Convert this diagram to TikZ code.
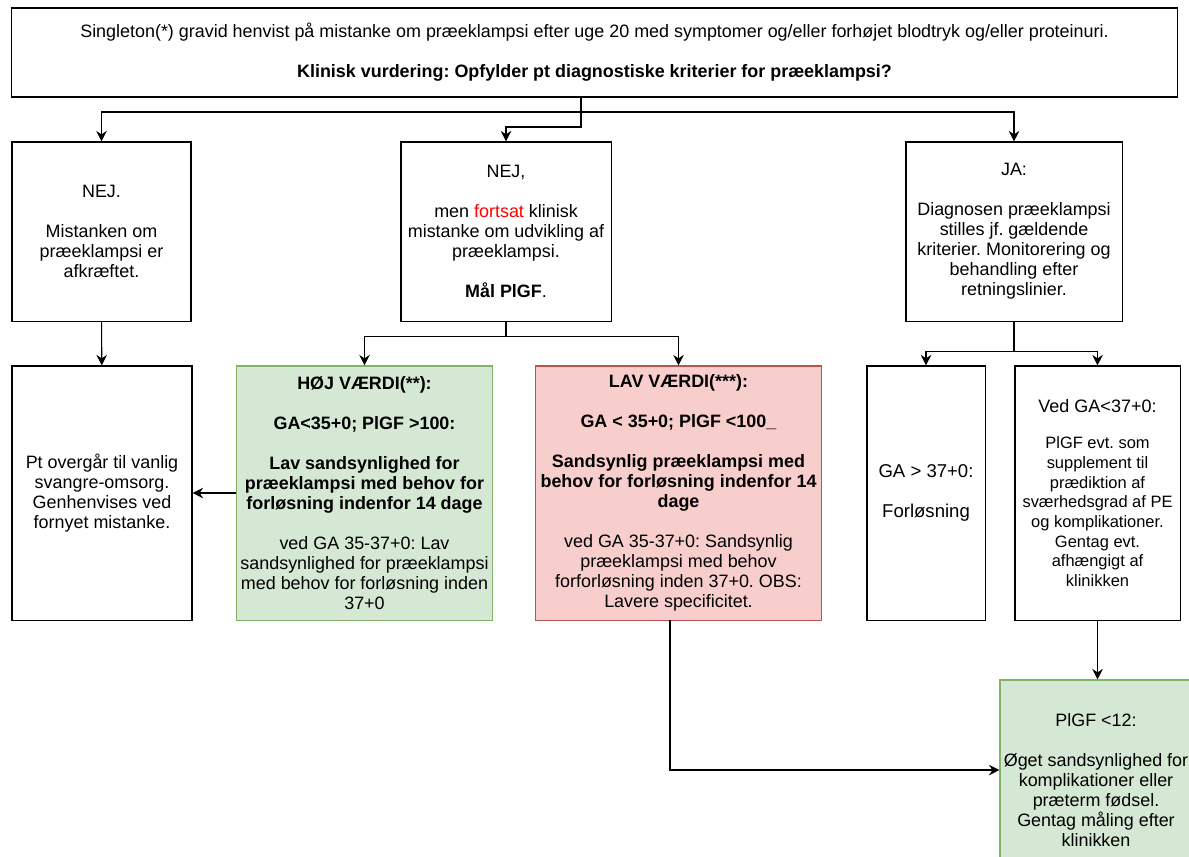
\documentclass[tikz,border=0pt]{standalone}
\usepackage{fontspec}
\setmainfont{Liberation Sans}
\usepackage{xcolor}
\definecolor{hojbg}{HTML}{D5E8D4}
\definecolor{hojbd}{HTML}{82B366}
\definecolor{lavbg}{HTML}{F8CECC}
\definecolor{lavbd}{HTML}{B85450}
\usepackage{tikz}
\usetikzlibrary{positioning, arrows.meta}
\frenchspacing

\begin{document}
\begin{tikzpicture}[
  x=0.025cm, y=-0.025cm,
  box/.style={draw, line width=0.75pt, align=center, inner sep=0pt, font=\fontsize{12.75}{14.2}\selectfont},
  good/.style={fill=hojbg, draw=hojbd},
  bad/.style={fill=lavbg, draw=lavbd},
  arrow/.style={-{Stealth[length=7.5pt, width=7.5pt, inset=2.5pt]}, line width=0.75pt},
]
\useasboundingbox (0,0) rectangle (1189,856);

% Question
\node[box, minimum width=29.125cm, minimum height=2.225cm] (top) at (594.5,52.5)
  {Singleton(*) gravid henvist på mistanke om præeklampsi efter uge 20 med symptomer og/eller forhøjet blodtryk og/eller proteinuri.\\[14.2pt]
   \textbf{Klinisk vurdering: Opfylder pt diagnostiske kriterier for præeklampsi?}};

% First answers
\node[box, minimum width=4.475cm, minimum height=4.475cm] (nej) at (101.5,231.5)
  {NEJ.\\[14.2pt]Mistanken om\\præeklampsi er\\afkræftet.};
\node[box, minimum width=5.25cm, minimum height=4.475cm] (mid) at (506,231.5)
  {NEJ,\\[14.2pt]men \textcolor{red}{fortsat} klinisk\\mistanke om udvikling af\\præeklampsi.\\[14.2pt]\textbf{Mål PlGF}.};
\node[box, minimum width=5.4cm, minimum height=4.475cm] (ja) at (1014,231.5)
  {JA:\\[14.2pt]Diagnosen præeklampsi\\stilles jf. gældende\\kriterier. Monitorering og\\behandling efter\\retningslinier.};

% Second row
\node[box, minimum width=4.5cm, minimum height=6.35cm] (pt) at (102,493)
  {Pt overgår til vanlig\\svangre-omsorg.\\Genhenvises ved\\fornyet mistanke.};
\node[box, good, minimum width=6.375cm, minimum height=6.35cm] (hoj) at (364.5,493)
  {\textbf{HØJ VÆRDI(**):}\\[14.2pt]\textbf{GA<35+0; PlGF >100:}\\[14.2pt]
   \textbf{Lav sandsynlighed for}\\\textbf{præeklampsi med behov for}\\\textbf{forløsning indenfor 14 dage}\\[14.2pt]
   ved GA 35-37+0: Lav\\sandsynlighed for præeklampsi\\med behov for forløsning inden\\37+0};
\node[box, bad, minimum width=7.125cm, minimum height=6.35cm] (lav) at (678.5,493)
  {\textbf{LAV VÆRDI(***):}\\[14.2pt]\textbf{GA < 35+0; PlGF <100\_}\\[14.2pt]
   \textbf{Sandsynlig præeklampsi med}\\\textbf{behov for forløsning indenfor 14}\\\textbf{dage}\\[14.2pt]
   ved GA 35-37+0: Sandsynlig\\præeklampsi med behov\\forforløsning inden 37+0. OBS:\\Lavere specificitet.};
\node[box, minimum width=2.95cm, minimum height=6.35cm, font=\fontsize{13.2}{14.2}\selectfont] (ga) at (926,493)
  {GA > 37+0:\\[14.2pt]Forløsning};
\node[box, minimum width=4.125cm, minimum height=6.35cm, font=\fontsize{11.7}{14}\selectfont] (ved) at (1097.5,493)
  {{\fontsize{12.8}{14}\selectfont Ved GA<37+0:}\\[12pt]PlGF evt. som\\supplement til\\prædiktion af\\sværhedsgrad af PE\\og komplikationer.\\Gentag evt.\\afhængigt af\\klinikken};

% Result
\node[box, good, minimum width=4.8cm, minimum height=5cm] (plgf) at (1096,780)
  {PlGF <12:\\[14.2pt]Øget sandsynlighed for\\komplikationer eller\\præterm fødsel.\\Gentag måling efter\\klinikken};

% Connectors
\coordinate (tout) at (581,97);
\coordinate (lavout) at (670,620);
\draw[arrow] (tout) -- ++(0,15) -| (nej.north);
\draw[arrow] (tout) -- ++(0,15) -| (ja.north);
\draw[arrow] (tout) -- ++(0,30) -| (mid.north);
\draw[arrow] (nej) -- (pt);
\draw[arrow] (mid.south) -- ++(0,15) -| (hoj.north);
\draw[arrow] (mid.south) -- ++(0,15) -| (lav.north);
\draw[arrow] (ja.south) -- ++(0,30) -| (ga.north);
\draw[arrow] (ja.south) -- ++(0,30) -| (ved.north);
\draw[arrow] (hoj.west) -- (pt.east);
\draw[arrow] (lavout) |- ([yshift=0.25cm]plgf.west);
\draw[arrow] (ved.south) -- (ved.south |- plgf.north);
\end{tikzpicture}
\end{document}
